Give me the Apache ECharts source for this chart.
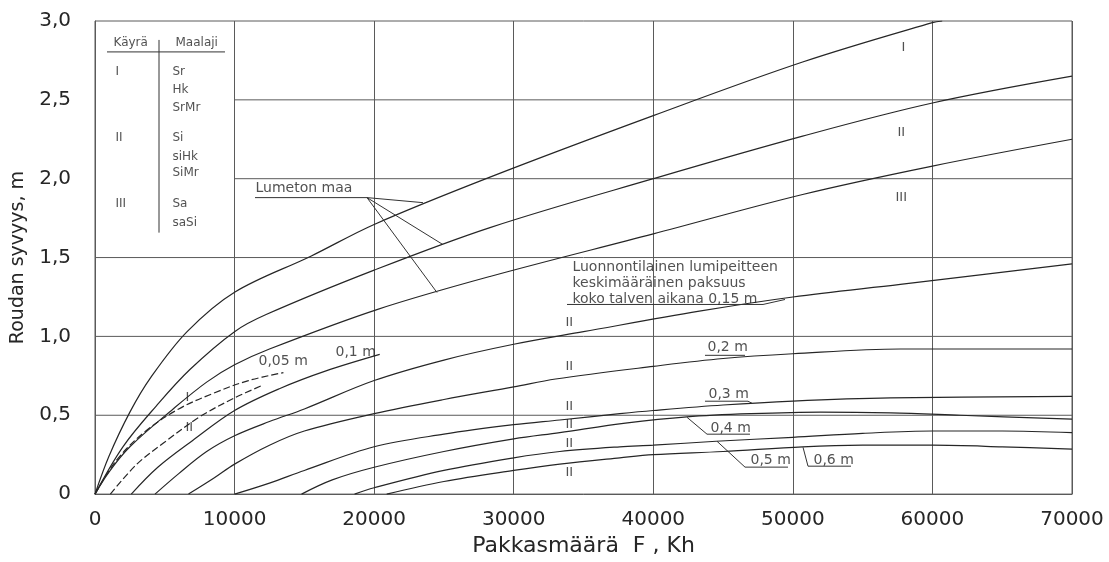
<!DOCTYPE html>
<html><head><meta charset="utf-8">
<script src="https://cdn.jsdelivr.net/npm/echarts@6/dist/echarts.min.js"></script>
<style>html,body{margin:0;padding:0;background:#fff}#c{width:1109px;height:562px}</style>
</head><body><div id="c"></div>
<script>
// ---- axis ticks ----
const xTickValues = [0, 10000, 20000, 30000, 40000, 50000, 60000, 70000];
const yTickLabels = ['0', '0,5', '1,0', '1,5', '2,0', '2,5', '3,0'];

// ---- snowless ground curves (Lumeton maa), [F Kh, depth m] ----
const curveI   = [[0,0],[1000,0.24],[2500,0.52],[4000,0.74],[6600,1.03],[10000,1.28],[15500,1.51],[20000,1.71],[28300,2.01],[40000,2.4],[50700,2.74],[60000,2.99],[60700,3.0]];
const curveII  = [[0,0],[2000,0.30],[4400,0.56],[6800,0.79],[10000,1.03],[12300,1.14],[20000,1.42],[28300,1.69],[40000,2.0],[50700,2.27],[60000,2.48],[70000,2.65]];
const curveIII = [[0,0],[1000,0.14],[2500,0.30],[5600,0.54],[8000,0.71],[10000,0.82],[12500,0.92],[20200,1.17],[28300,1.38],[40000,1.65],[50700,1.9],[60000,2.08],[70000,2.25]];

// ---- snow-covered curves, by snow thickness ----
const snow005I  = [[0,0],[1500,0.21],[3500,0.39],[6000,0.54],[8500,0.64],[11000,0.72],[13500,0.77]];
const snow005II = [[1100,0],[3000,0.19],[5000,0.33],[7500,0.49],[10000,0.61],[12000,0.69]];
const snow01  = [[2600,0],[4500,0.17],[7000,0.34],[10000,0.53],[13250,0.67],[16500,0.78],[20400,0.886]];
const snow015 = [[4300,0],[6000,0.13],[8000,0.27],[10000,0.37],[12500,0.46],[15000,0.54],[20000,0.72],[25000,0.85],[30000,0.95],[35000,1.03],[43300,1.16],[50000,1.25],[57700,1.33],[70000,1.46]];
const snow02  = [[6700,0],[8500,0.1],[10000,0.19],[12500,0.31],[15000,0.4],[20000,0.51],[25000,0.6],[30000,0.68],[33000,0.73],[40000,0.81],[45000,0.86],[50000,0.89],[57700,0.92],[70000,0.92]];
const snow03  = [[10000,0],[12500,0.07],[15000,0.15],[20000,0.3],[25000,0.38],[30000,0.44],[33300,0.47],[37600,0.51],[40000,0.53],[45000,0.565],[50000,0.59],[57000,0.61],[70000,0.62]];
const snow04  = [[14800,0],[17000,0.09],[20000,0.17],[25000,0.27],[30000,0.35],[33300,0.39],[38000,0.45],[42400,0.49],[47000,0.51],[52000,0.52],[57000,0.515],[62000,0.5],[70000,0.475]];
const snow05  = [[18600,0],[20000,0.04],[25000,0.15],[30000,0.23],[33300,0.27],[37600,0.3],[40000,0.31],[44500,0.335],[50000,0.36],[55000,0.385],[60000,0.4],[65000,0.4],[70000,0.39]];
const snow06  = [[20900,0],[25000,0.08],[30000,0.15],[33300,0.19],[37600,0.23],[40000,0.25],[45000,0.27],[50700,0.3],[55000,0.31],[60000,0.31],[65000,0.3],[70000,0.285]];

// ---- horizontal grid segments [fromF, toF, depth] ----
const hGrid = [[0,70000,0.5],[0,70000,1.0],[0,70000,1.5],[10000,70000,2.0],[10000,70000,2.5]];

// ---- label leader / underline polylines (data coords) ----
const leaders = [
  [[11464,1.88],[19489,1.88],[23501,1.848]],
  [[19489,1.88],[24934,1.582]],
  [[19489,1.88],[24504,1.278]],
  [[33818,1.2025],[47862,1.2025],[49438,1.234]],
  [[43705,0.88],[46572,0.88]],
  [[43705,0.589],[46786,0.589],[47073,0.576]],
  [[42416,0.487],[43849,0.38],[46929,0.38]],
  [[44565,0.335],[46572,0.171],[49653,0.171]],
  [[50727,0.297],[51085,0.177],[54166,0.177]],
  // legend table rules
  [[860,2.804],[9314,2.804]],
  [[4586,2.88],[4586,1.658]]
];

// ---- text annotations [F, depth, text] ----
const curveLabels = [
  [11464,1.94,'Lumeton maa'],
  [34170,1.437,'Luonnontilainen lumipeitteen'],
  [34170,1.335,'keskimääräinen paksuus'],
  [34170,1.234,'koko talven aikana 0,15 m'],
  [11679,0.842,'0,05 m'],
  [17196,0.899,'0,1 m'],
  [43849,0.93,'0,2 m'],
  [43921,0.633,'0,3 m'],
  [44064,0.418,'0,4 m'],
  [46930,0.215,'0,5 m'],
  [51444,0.215,'0,6 m']
];
const romanLabels = [
  [57749,2.829,'I'],[57462,2.291,'II'],[57319,1.88,'III'],
  [6449,0.614,'I'],[6449,0.424,'II'],
  [33675,1.089,'II'],[33675,0.81,'II'],[33675,0.557,'II'],[33675,0.443,'II'],[33675,0.323,'II'],[33675,0.139,'II']
];
const tableLabels = [
  [1290,2.861,'Käyrä'],[5732,2.861,'Maalaji'],
  [1433,2.677,'I'],[5517,2.677,'Sr'],[5517,2.563,'Hk'],[5517,2.449,'SrMr'],
  [1433,2.259,'II'],[5517,2.259,'Si'],[5517,2.139,'siHk'],[5517,2.038,'SiMr'],
  [1433,1.842,'III'],[5517,1.842,'Sa'],[5517,1.722,'saSi']
];

const FONT = 'DejaVu Sans';
const INK = '#262626';
const GRIDC = '#5a5a5a';

function curve(data, dashed) {
  return {
    type: 'line', data: data, showSymbol: false, smooth: 0.35,
    lineStyle: { color: INK, width: 1.2, type: dashed ? [7, 3] : 'solid' },
    silent: true, z: 3
  };
}
function poly(data, color, width, z) {
  return { type: 'line', data: data, showSymbol: false, smooth: false,
    lineStyle: { color: color, width: width }, silent: true, z: z };
}
function textSeries(items, size) {
  return {
    type: 'scatter', data: items, symbolSize: 1,
    itemStyle: { color: 'rgba(0,0,0,0)' }, silent: true, z: 5,
    label: { show: true, position: 'right', distance: 0, color: INK,
      fontFamily: FONT, fontSize: size, formatter: p => p.data[2] }
  };
}

const series = [];
hGrid.forEach(g => series.push(poly([[g[0], g[2]], [g[1], g[2]]], GRIDC, 1, 1)));
[curveI, curveII, curveIII, snow01, snow015, snow02, snow03, snow04, snow05, snow06]
  .forEach(c => series.push(curve(c, false)));
[snow005I, snow005II].forEach(c => series.push(curve(c, true)));
leaders.forEach(l => series.push(poly(l, '#333', 1, 4)));
series.push(textSeries(curveLabels, 14));
series.push(textSeries(romanLabels, 13));
series.push(textSeries(tableLabels, 12));

const chart = echarts.init(document.getElementById('c'), null, { renderer: 'canvas' });
chart.setOption({
  animation: false,
  backgroundColor: '#ffffff',
  grid: { left: 95, right: 37, top: 21, bottom: 67, show: true, borderColor: GRIDC, borderWidth: 1 },
  xAxis: {
    type: 'value', min: xTickValues[0], max: xTickValues[xTickValues.length - 1], interval: 10000,
    name: 'Pakkasmäärä  F , Kh', nameLocation: 'middle', nameGap: 40,
    nameTextStyle: { fontFamily: FONT, fontSize: 22, color: INK },
    axisLine: { show: true, lineStyle: { color: GRIDC, width: 1 } },
    axisTick: { show: false },
    axisLabel: { fontFamily: FONT, fontSize: 20, color: INK, margin: 16, formatter: v => String(v) },
    splitLine: { show: true, lineStyle: { color: GRIDC, width: 1 } }
  },
  yAxis: {
    type: 'value', min: 0, max: 3, interval: 0.5,
    name: 'Roudan syvyys, m', nameLocation: 'middle', nameGap: 67, nameRotate: 90,
    nameTextStyle: { fontFamily: FONT, fontSize: 19, color: INK },
    axisLine: { show: true, lineStyle: { color: GRIDC, width: 1 } },
    axisTick: { show: false },
    axisLabel: { fontFamily: FONT, fontSize: 20, color: INK, margin: 24,
      formatter: v => yTickLabels[Math.round(v / 0.5)] },
    splitLine: { show: false }
  },
  series: series
});
</script></body></html>
